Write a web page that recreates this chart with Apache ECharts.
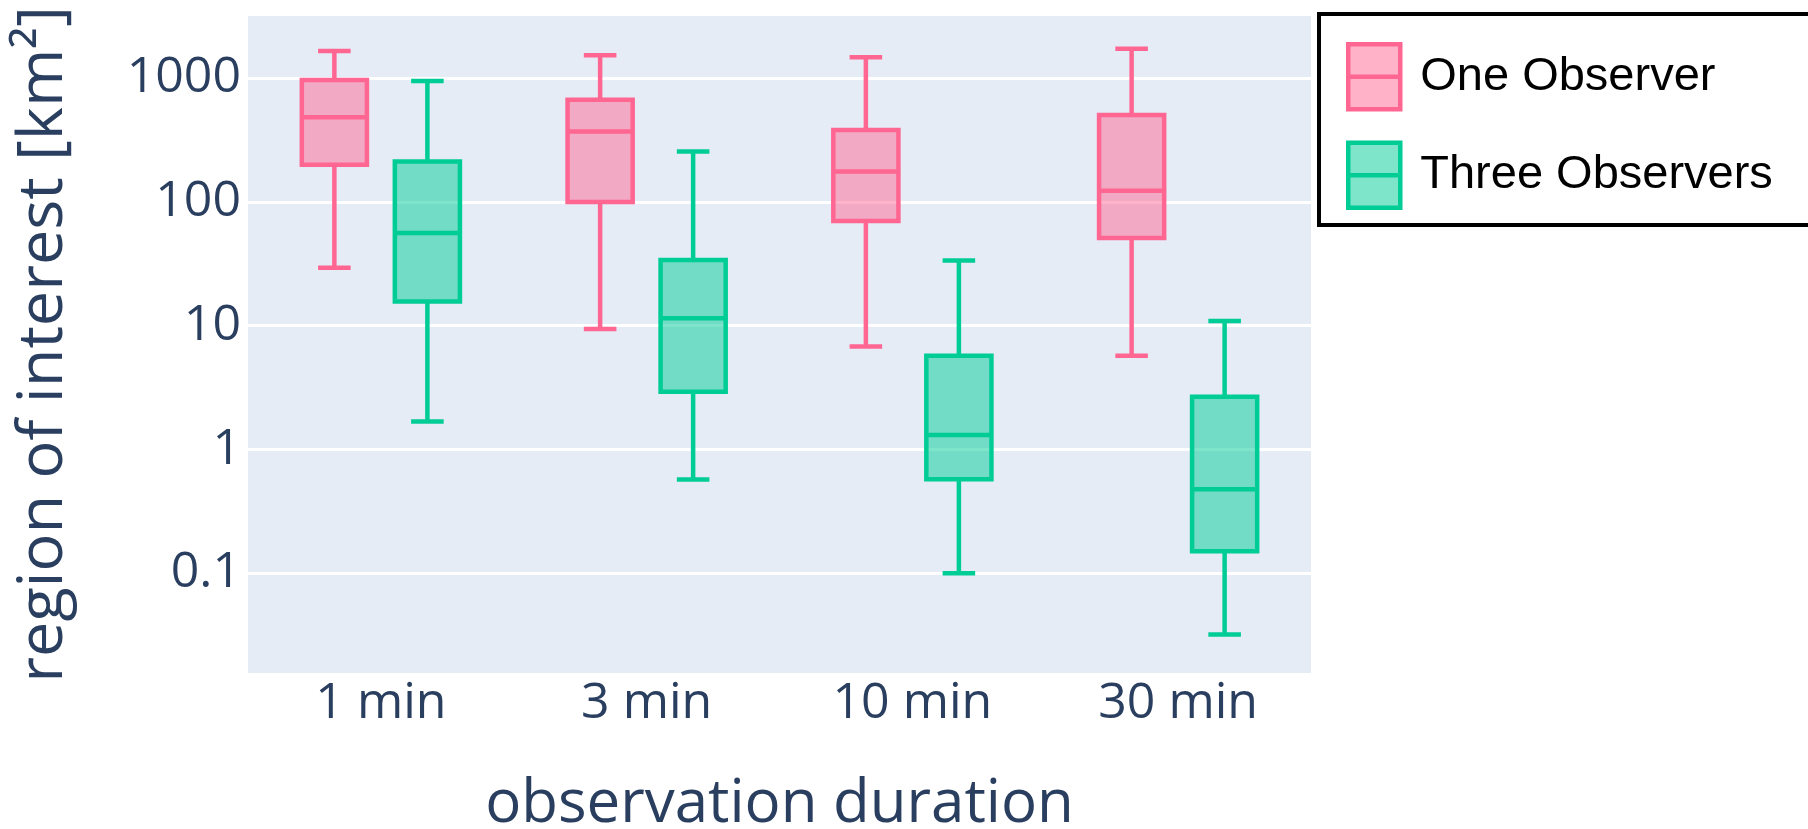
<!DOCTYPE html>
<html>
<head>
<meta charset="utf-8">
<script src="https://cdn.jsdelivr.net/npm/echarts@6/dist/echarts.min.js"></script>
<style>
    html, body {margin: 0; padding: 0; background: #fff;}
    #main {width: 1808px; height: 829px;}
</style>
</head>
<body>
<div id="main"></div>
<script>
// categories on the x axis
const categories = ['1 min', '3 min', '10 min', '30 min'];

// box stats per category: [lower whisker, q1, median, q3, upper whisker]
const oneObserver = [
    [29.4, 200, 484, 965, 1660],
    [9.4, 100, 370, 668, 1534],
    [6.8, 70, 176, 382, 1477],
    [5.7, 51, 123, 505, 1725]
];
const threeObservers = [
    [1.68, 15.7, 56, 212, 950],
    [0.57, 2.93, 11.5, 34, 255],
    [0.1, 0.575, 1.31, 5.7, 33.6],
    [0.032, 0.15, 0.477, 2.67, 10.9]
];

const PINK = '#FF6692';
const GREEN = '#00CC96';
const TEXT = '#2a3f5f';
const AXIS_FONT = '"Open Sans", sans-serif';
const LINE_W = 4.5;

// plotly style grouping: box is 0.245 of band, centres at +-0.175 of band
const BOX_FRAC = 0.245;
const OFFSET_FRAC = 0.175;

const BOX_ICON = 'path://M0,0H52V65H0Z M0,32.5H52';

function boxRenderer(offsetFrac, color) {
    return function (params, api) {
        const cat = api.value(0);
        const low = api.coord([cat, api.value(1)]);
        const q1 = api.coord([cat, api.value(2)]);
        const med = api.coord([cat, api.value(3)]);
        const q3 = api.coord([cat, api.value(4)]);
        const high = api.coord([cat, api.value(5)]);
        const band = api.size([1, 1])[0];
        const cx = med[0] + band * offsetFrac;
        const half = band * BOX_FRAC / 2;
        const cap = half / 2;
        const lineStyle = {stroke: color, lineWidth: LINE_W};
        return {
            type: 'group',
            children: [
                {type: 'line', shape: {x1: cx, y1: high[1], x2: cx, y2: q3[1]}, style: lineStyle},
                {type: 'line', shape: {x1: cx, y1: q1[1], x2: cx, y2: low[1]}, style: lineStyle},
                {type: 'line', shape: {x1: cx - cap, y1: high[1], x2: cx + cap, y2: high[1]}, style: lineStyle},
                {type: 'line', shape: {x1: cx - cap, y1: low[1], x2: cx + cap, y2: low[1]}, style: lineStyle},
                {
                    type: 'rect',
                    shape: {x: cx - half, y: q3[1], width: half * 2, height: q1[1] - q3[1]},
                    style: {fill: echarts.color.modifyAlpha(color, 0.5), stroke: color, lineWidth: LINE_W}
                },
                {type: 'line', shape: {x1: cx - half, y1: med[1], x2: cx + half, y2: med[1]}, style: lineStyle}
            ]
        };
    };
}

const chart = echarts.init(document.getElementById('main'));

let option = {
    animation: false,
    grid: {
        left: 248,
        top: 16,
        width: 1063,
        height: 657,
        outerBoundsMode: 'none',
        show: true,
        backgroundColor: '#E5ECF6',
        borderWidth: 0
    },
    legend: {
        orient: 'vertical',
        left: 1319,
        top: 14,
        padding: [28, 80, 15, 27],
        itemWidth: 52,
        itemHeight: 65,
        itemGap: 29,
        borderColor: '#000',
        borderWidth: 4,
        backgroundColor: '#fff',
        textStyle: {
            fontFamily: '"Liberation Sans", Arial, sans-serif',
            fontSize: 47,
            color: '#000',
            padding: [0, 0, 0, 15]
        },
        data: [
            {name: 'One Observer', icon: BOX_ICON,
                itemStyle: {color: echarts.color.modifyAlpha(PINK, 0.5), borderColor: PINK, borderWidth: LINE_W}},
            {name: 'Three Observers', icon: BOX_ICON,
                itemStyle: {color: echarts.color.modifyAlpha(GREEN, 0.5), borderColor: GREEN, borderWidth: LINE_W}}
        ]
    },
    xAxis: {
        type: 'category',
        data: categories,
        name: 'observation duration',
        nameLocation: 'middle',
        nameGap: 102,
        nameTextStyle: {fontFamily: AXIS_FONT, fontSize: 60, color: TEXT},
        axisLine: {show: false},
        axisTick: {show: false},
        splitLine: {show: false},
        axisLabel: {fontFamily: AXIS_FONT, fontSize: 50, color: TEXT, margin: 6}
    },
    yAxis: {
        type: 'log',
        logBase: 10,
        min: 0.0156,
        max: 3180,
        name: 'region of interest [km²]',
        nameLocation: 'middle',
        nameGap: 172,
        nameTextStyle: {fontFamily: AXIS_FONT, fontSize: 63, color: TEXT},
        axisLine: {show: false},
        axisTick: {show: false},
        splitLine: {show: true, showMinLine: false, showMaxLine: false, lineStyle: {color: '#fff', width: 3}},
        axisLabel: {
            fontFamily: AXIS_FONT, fontSize: 50, color: TEXT, margin: 7,
            showMinLabel: false, showMaxLabel: false,
            formatter: v => String(+v.toPrecision(6))
        }
    },
    series: [
        {
            name: 'One Observer',
            type: 'custom',
            renderItem: boxRenderer(-OFFSET_FRAC, PINK),
            itemStyle: {color: echarts.color.modifyAlpha(PINK, 0.5), borderColor: PINK, borderWidth: LINE_W},
            encode: {x: 0, y: [1, 2, 3, 4, 5]},
            data: oneObserver.map((v, i) => [i].concat(v))
        },
        {
            name: 'Three Observers',
            type: 'custom',
            renderItem: boxRenderer(OFFSET_FRAC, GREEN),
            itemStyle: {color: echarts.color.modifyAlpha(GREEN, 0.5), borderColor: GREEN, borderWidth: LINE_W},
            encode: {x: 0, y: [1, 2, 3, 4, 5]},
            data: threeObservers.map((v, i) => [i].concat(v))
        }
    ]
};

chart.setOption(option);
</script>
</body>
</html>
